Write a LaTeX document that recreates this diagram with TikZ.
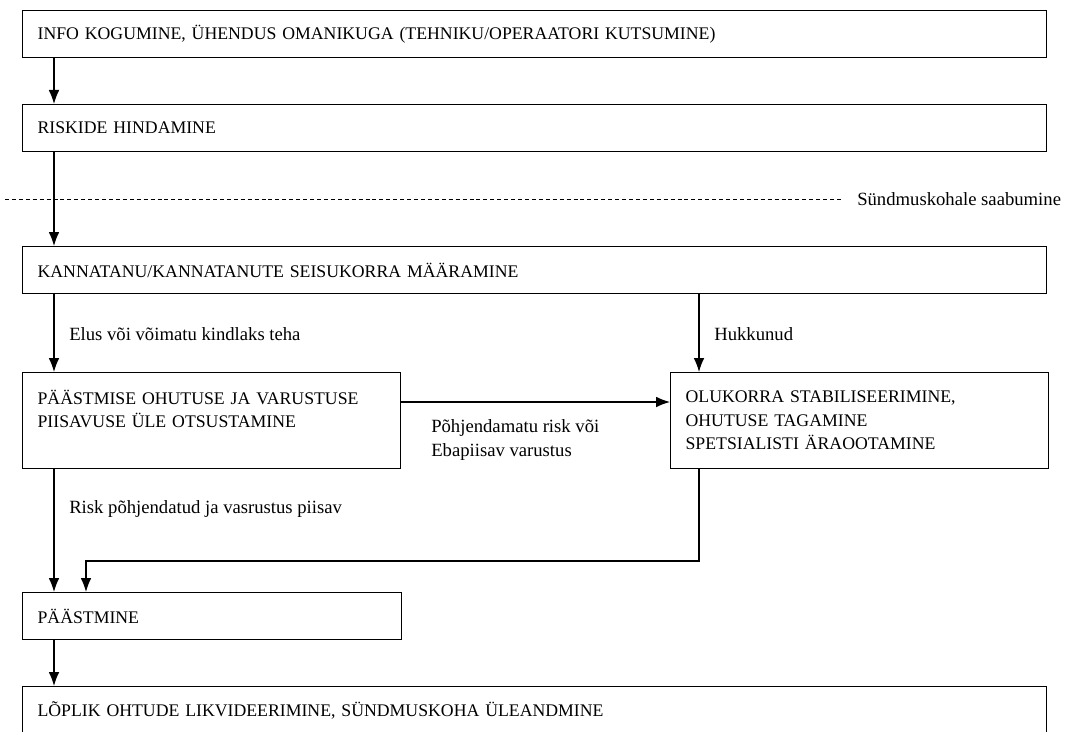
\documentclass[tikz,border=0pt]{standalone}
\usepackage{fontspec}
\setmainfont{Liberation Serif}
\usepackage{tikz}
\usetikzlibrary{arrows.meta,positioning,calc}

\begin{document}
\begin{tikzpicture}[
    x=0.75pt, y=-0.75pt,
    stagebox/.style={draw, line width=0.9pt, anchor=north west, align=left, inner xsep=11.25pt, inner ysep=0pt,
        font=\fontsize{13.3}{17.6}\selectfont},
    wide/.style={text width=745.5pt, minimum height=35.25pt},
    half/.style={text width=261.75pt, minimum height=35.25pt},
    tall/.style={text width=261pt, minimum height=72pt},
    lbl/.style={anchor=west, align=left, inner sep=0pt, font=\fontsize{14}{17.6}\selectfont},
    arr/.style={-{Latex[length=10.5pt, width=8pt]}, line width=0.9pt}
]
\useasboundingbox (0,0) rectangle (1066,731);
\node[stagebox, wide] (info) at (22,10) {INFO KOGUMINE, ÜHENDUS OMANIKUGA (TEHNIKU/OPERAATORI KUTSUMINE)};
\node[stagebox, wide] (risk) at (22,104) {RISKIDE HINDAMINE};
\node[stagebox, wide] (state) at (22,246) {KANNATANU/KANNATANUTE SEISUKORRA MÄÄRAMINE};
\node[stagebox, tall] (decide) at (22,372) {PÄÄSTMISE OHUTUSE JA VARUSTUSE\\PIISAVUSE ÜLE OTSUSTAMINE\\\mbox{}};
\node[stagebox, tall] (stable) at (670,372) {OLUKORRA STABILISEERIMINE,\\OHUTUSE TAGAMINE\\SPETSIALISTI ÄRAOOTAMINE};
\node[stagebox, half] (rescue) at (22,592) {PÄÄSTMINE};
\node[stagebox, wide] (final) at (22,686) {LÕPLIK OHTUDE LIKVIDEERIMINE, SÜNDMUSKOHA ÜLEANDMINE};

% arrival line
\coordinate (dashstart) at (5,199);
\node[lbl] (arrive) at (857,199) {Sündmuskohale saabumine};
\draw[line width=0.6pt, dash pattern=on 3pt off 2.2pt] (dashstart) -- ([xshift=-12pt]arrive.west);

% edge labels
\node[lbl] (alive) at (69,334) {Elus või võimatu kindlaks teha};
\node[lbl] (dead) at (714,334) {Hukkunud};
\node[lbl] (norisk) at (431,440) {Põhjendamatu risk või\\Ebapiisav varustus};
\node[lbl] (go) at (69,509) {Risk põhjendatud ja vasrustus piisav};

\draw[arr] ([xshift=24pt]info.south west) -- ([xshift=24pt]risk.north west);
\draw[arr] ([xshift=24pt]risk.south west) -- ([xshift=24pt]state.north west);
\draw[arr] ([xshift=24pt]state.south west) -- ([xshift=24pt]decide.north west);
\draw[arr] ([xshift=21.75pt]stable.north west |- state.south) -- ([xshift=21.75pt]stable.north west);
\draw[arr] ([yshift=-22.5pt]decide.north east) -- ([yshift=-22.5pt]decide.north east -| stable.west);
\draw[arr] ([xshift=24pt]decide.south west) -- ([xshift=24pt]rescue.north west);
\draw[arr] ([xshift=21.75pt]stable.south west) |- ($([xshift=48pt]rescue.north west)+(0,-31)$) -- ([xshift=48pt]rescue.north west);
\draw[arr] ([xshift=24pt]rescue.south west) -- ([xshift=24pt]final.north west);
\end{tikzpicture}
\end{document}
